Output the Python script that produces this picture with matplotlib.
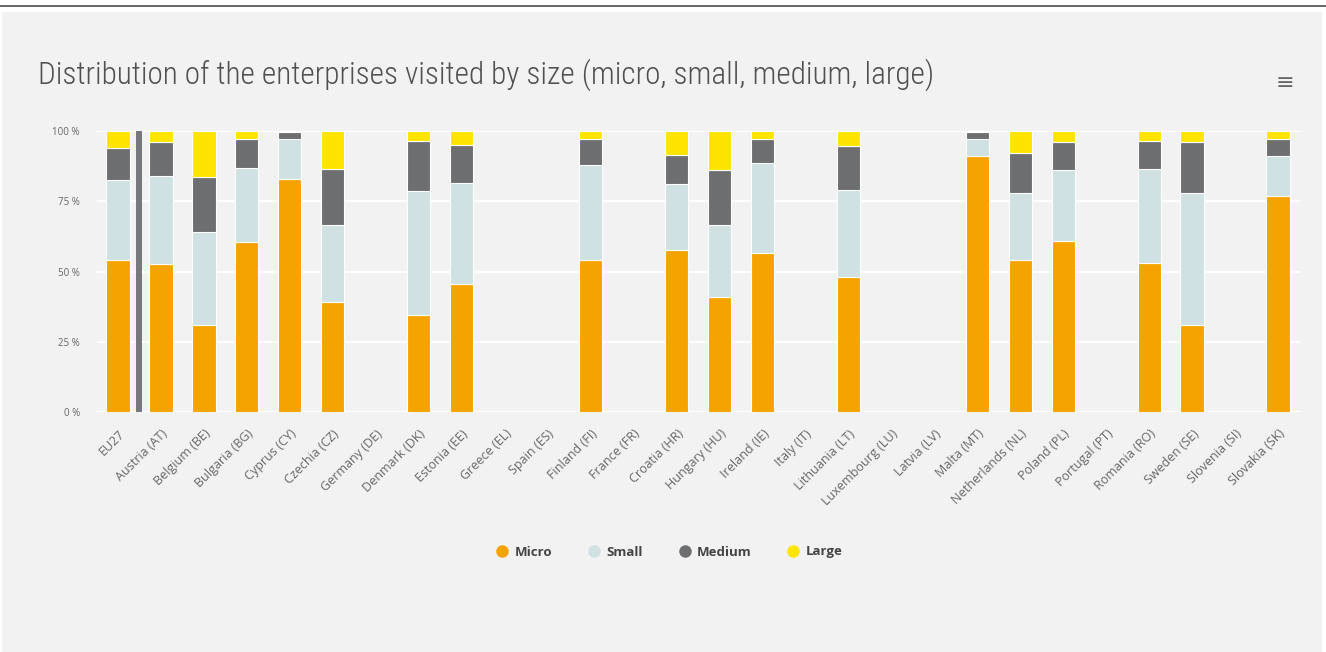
import numpy as np
import matplotlib.pyplot as plt
from matplotlib.lines import Line2D
from matplotlib.patches import Rectangle

countries = ["EU27", "Austria (AT)", "Belgium (BE)", "Bulgaria (BG)", "Cyprus (CY)",
             "Czechia (CZ)", "Germany (DE)", "Denmark (DK)", "Estonia (EE)", "Greece (EL)",
             "Spain (ES)", "Finland (FI)", "France (FR)", "Croatia (HR)", "Hungary (HU)",
             "Ireland (IE)", "Italy (IT)", "Lithuania (LT)", "Luxembourg (LU)", "Latvia (LV)",
             "Malta (MT)", "Netherlands (NL)", "Poland (PL)", "Portugal (PT)", "Romania (RO)",
             "Sweden (SE)", "Slovenia (SI)", "Slovakia (SK)"]

micro = [54, 52.5, 31, 60.5, 83, 39, 0, 34.5, 45.5, 0, 0, 54, 0, 57.5, 41, 56.5, 0, 48,
         0, 0, 91, 54, 61, 0, 53, 31, 0, 77]
small = [28.5, 31.5, 33, 26.5, 14, 27.5, 0, 44, 36, 0, 0, 34, 0, 23.5, 25.5, 32, 0, 31,
         0, 0, 6, 24, 25, 0, 33.5, 47, 0, 14]
medium = [11.5, 12, 19.5, 10, 2.5, 20, 0, 18, 13.5, 0, 0, 9, 0, 10.5, 19.5, 8.5, 0, 15.5,
          0, 0, 2.5, 14, 10, 0, 10, 18, 0, 6]
large = [6, 4, 16.5, 3, 0.5, 13.5, 0, 3.5, 5, 0, 0, 3, 0, 8.5, 14, 3, 0, 5.5,
         0, 0, 0.5, 8, 4, 0, 3.5, 4, 0, 3]

series = ["Micro", "Small", "Medium", "Large"]
colors = ["#F4A300", "#CFE1E2", "#6D6E70", "#FFE400"]
yticks = [0, 25, 50, 75, 100]
ytick_labels = ["0 %", "25 %", "50 %", "75 %", "100 %"]

TITLE_FONT = ["Roboto Condensed", "DejaVu Sans"]
FONT = ["Open Sans", "DejaVu Sans"]
plt.rcParams["font.family"] = FONT

W, H = 1326, 652
fig = plt.figure(figsize=(W / 100, H / 100), dpi=100)
fig.patch.set_facecolor("white")

# grey card behind the chart and the thin rule above it
fig.add_artist(Rectangle((2 / W, 0), 1320 / W, 640 / H, transform=fig.transFigure,
                         facecolor="#F2F2F2", edgecolor="none", zorder=0))
fig.add_artist(Line2D([0, 1], [1 - 5.5 / H, 1 - 5.5 / H], transform=fig.transFigure,
                      color="#4A4A4A", lw=1.2))

ax = fig.add_axes([96.5 / W, (H - 412) / H, 1203 / W, 281 / H])
ax.set_facecolor("none")

# percent-stacked columns
data = np.array([micro, small, medium, large], dtype=float)
totals = data.sum(axis=0)
pct = np.divide(data * 100, totals, out=np.zeros_like(data), where=totals > 0)
x = np.arange(len(countries))
bottom = np.zeros(len(countries))
for vals, col, name in zip(pct, colors, series):
    ax.bar(x, vals, 0.54, bottom=bottom, color=col, edgecolor="white",
           linewidth=0.8, label=name, zorder=3)
    bottom += vals

# separator between the EU average and the member states
ax.plot([0.5, 0.5], [0, 100], color="#77787B", lw=4.3, solid_capstyle="butt", zorder=3)

ax.set_xlim(-0.5, len(countries) - 0.5)
ax.set_ylim(0, 100)
ax.set_yticks(yticks)
ax.set_yticklabels(ytick_labels)
ax.grid(axis="y", color="white", lw=1.6, zorder=1)
ax.set_axisbelow(True)
for s in ax.spines.values():
    s.set_visible(False)
ax.tick_params(axis="y", length=0, pad=12, labelsize=7, labelcolor="#666666")
ax.tick_params(axis="x", length=0, pad=11, labelsize=9, labelcolor="#666666")
ax.set_xticks(x)
ax.set_xticklabels(countries, rotation=45, ha="right", rotation_mode="anchor")

fig.text(38 / W, 1 - 75 / H, "Distribution of the enterprises visited by size (micro, small, medium, large)",
         fontsize=22.5, color="#505050", va="center", ha="left", weight="light",
         family=TITLE_FONT)
fig.text(1285 / W, 1 - 83 / H, "\u2261", fontsize=16, color="#666666", va="center", ha="center",
         family="DejaVu Sans")

handles = [Line2D([], [], marker="o", ls="none", markersize=9, markerfacecolor=c,
                  markeredgecolor="none") for c in colors]
fig.legend(handles, series, loc="center", bbox_to_anchor=(669 / W, 1 - 552 / H), ncol=4,
           frameon=False, prop={"size": 9.5, "weight": "bold"}, labelcolor="#444444",
           handlelength=1.0, handletextpad=0.4, columnspacing=2.7)

fig.savefig("out.png", dpi=100, facecolor=fig.get_facecolor())
